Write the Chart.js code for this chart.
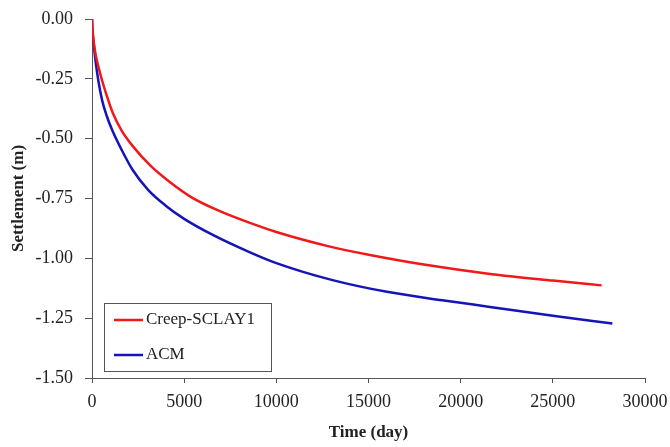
<!DOCTYPE html>
<html>
<head>
<meta charset="utf-8">
<script src="https://cdn.jsdelivr.net/npm/chart.js@4.4.1/dist/chart.umd.min.js"></script>
<style>
  html, body { margin: 0; padding: 0; background: #fff; }
</style>
</head>
<body>
<canvas id="myChart" width="670" height="447"></canvas>
<script>
// values
const creepTime = [0, 30, 100, 200, 350, 540, 800, 1140, 1600, 2200, 3200, 4200, 5400, 7000, 8571, 10000, 12911, 15081, 18000, 21590, 25000, 27650];
const creepSettlement = [0, -0.045, -0.10, -0.15, -0.20, -0.255, -0.32, -0.395, -0.465, -0.53, -0.615, -0.68, -0.745, -0.805, -0.852, -0.89, -0.951, -0.986, -1.026, -1.065, -1.093, -1.113];

const acmTime = [0, 30, 100, 200, 350, 550, 777, 1100, 1610, 2200, 3055, 4000, 5000, 6500, 8571, 10000, 13000, 16000, 19000, 21590, 25000, 28230];
const acmSettlement = [0, -0.05, -0.11, -0.18, -0.26, -0.34, -0.40, -0.465, -0.547, -0.63, -0.715, -0.78, -0.835, -0.90, -0.975, -1.02, -1.09, -1.14, -1.175, -1.203, -1.24, -1.272];

const seriesNames = ['Creep-SCLAY1', 'ACM'];
const seriesColors = ['#f01818', '#1414b8'];

const toPoints = (xs, ys) => xs.map((x, i) => ({ x: x, y: ys[i] }));

// legend box drawn inside the plot area, bottom-left
const boxLegend = {
    id: 'boxLegend',
    afterDraw(chart) {
        const ctx = chart.ctx;
        const area = chart.chartArea;
        const x0 = area.left + 12, y0 = area.bottom - 75, w = 167, h = 68;
        ctx.save();
        ctx.strokeStyle = '#555';
        ctx.lineWidth = 1;
        ctx.strokeRect(x0 + 0.5, y0 + 0.5, w, h);
        ctx.font = '17px "Liberation Serif"';
        ctx.textBaseline = 'middle';
        chart.data.datasets.forEach((ds, i) => {
            const yy = y0 + 17 + i * 35;
            ctx.strokeStyle = ds.borderColor;
            ctx.lineWidth = 2.5;
            ctx.beginPath();
            ctx.moveTo(x0 + 10, yy);
            ctx.lineTo(x0 + 39, yy);
            ctx.stroke();
            ctx.fillStyle = '#222';
            ctx.fillText(ds.label, x0 + 42, yy);
        });
        ctx.restore();
    }
};

const canvas = document.getElementById('myChart');
const myChart = new Chart(canvas, {
    type: 'scatter',
    data: {
        datasets: [{
            label: seriesNames[0],
            data: toPoints(creepTime, creepSettlement),
            borderColor: seriesColors[0],
            backgroundColor: seriesColors[0],
            borderWidth: 2.5,
            showLine: true,
            pointRadius: 0,
            cubicInterpolationMode: 'monotone'
        }, {
            label: seriesNames[1],
            data: toPoints(acmTime, acmSettlement),
            borderColor: seriesColors[1],
            backgroundColor: seriesColors[1],
            borderWidth: 2.5,
            showLine: true,
            pointRadius: 0,
            cubicInterpolationMode: 'monotone'
        }]
    },
    options: {
        responsive: false,
        animation: false,
        layout: { padding: { top: 19, right: 25, left: 4, bottom: 0 } },
        plugins: {
            legend: { display: false },
            tooltip: { enabled: false }
        },
        scales: {
            x: {
                type: 'linear',
                min: 0,
                max: 30000,
                afterFit: s => { s.height = 69; s.paddingLeft = 0; s.paddingRight = 0; },
                ticks: {
                    stepSize: 5000,
                    color: '#222',
                    font: { family: 'Liberation Serif', size: 18 },
                    padding: 8,
                    maxRotation: 0,
                    callback: v => String(v)
                },
                grid: { drawOnChartArea: false, drawTicks: true, tickLength: 5, color: '#555' },
                border: { color: '#555', width: 1 },
                title: {
                    display: true,
                    text: 'Time (day)',
                    color: '#222',
                    font: { family: 'Liberation Serif', size: 17, weight: 'bold' },
                    padding: { top: 0 }
                }
            },
            y: {
                min: -1.5,
                max: 0,
                afterFit: s => { s.width = 88; s.paddingTop = 0; s.paddingBottom = 0; },
                ticks: {
                    stepSize: 0.25,
                    color: '#222',
                    font: { family: 'Liberation Serif', size: 18 },
                    padding: 12,
                    callback: v => v.toFixed(2)
                },
                grid: { drawOnChartArea: false, drawTicks: true, tickLength: 7, color: '#555' },
                border: { color: '#555', width: 1 },
                title: {
                    display: true,
                    text: 'Settlement (m)',
                    color: '#222',
                    font: { family: 'Liberation Serif', size: 17, weight: 'bold' },
                    padding: { bottom: 4 }
                }
            }
        }
    },
    plugins: [boxLegend]
});
</script>
</body>
</html>
